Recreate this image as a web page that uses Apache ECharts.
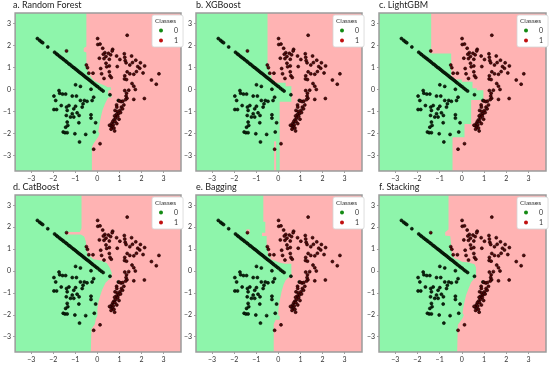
<!DOCTYPE html>
<html><head><meta charset="utf-8">
<script src="https://cdn.jsdelivr.net/npm/echarts@6/dist/echarts.min.js"></script>
<style>html,body{margin:0;padding:0;background:#fff}#c{width:550px;height:365px}</style>
</head><body><div id="c"></div>
<script>
// ---------- data ----------
const xRange = [-3.73, 3.79];
const yRange = [-3.70, 3.47];
const panelTitles = ['a. Random Forest', 'b. XGBoost', 'c. LightGBM', 'd. CatBoost', 'e. Bagging', 'f. Stacking'];
const classNames = ['0', '1'];
const legendTitle = 'Classes';

// class 0 samples
const class0 = [
  [-2.72,2.31],[-2.62,2.23],[-2.55,2.17],[-2.48,2.12],[-2.25,1.93],[-1.94,1.69],[-1.86,1.62],[-1.80,1.57],
  [-1.72,1.51],[-1.65,1.45],[-1.58,1.40],[-1.52,1.35],[-1.44,1.29],[-1.38,1.24],[-1.30,1.17],[-1.24,1.13],
  [-1.17,1.07],[-1.10,1.01],[-1.04,0.97],[-0.98,0.92],[-0.92,0.87],[-0.86,0.82],[-0.80,0.77],[-0.74,0.73],
  [-0.68,0.68],[-0.62,0.63],[-0.56,0.58],[-0.50,0.53],[-0.44,0.49],[-0.38,0.44],[-0.32,0.39],[-0.26,0.34],
  [-0.20,0.29],[-0.12,0.23],[-0.05,0.17],[0.02,0.12],[0.10,0.05],[0.18,-0.01],[0.26,-0.07],
  [-0.99,0.21],[-0.77,0.14],[-0.29,0.01],[-1.74,-0.05],
  [-1.71,-0.17],[-1.58,-0.21],[-1.44,-0.21],[-1.97,-0.30],[-1.89,-0.50],[-1.14,-0.30],[-0.95,-0.30],
  [-0.77,-0.50],[-0.59,-0.50],[-0.47,-0.54],[-0.17,-0.35],[-0.24,-0.50],[-0.65,-0.65],[-0.69,-0.80],
  [-0.99,-0.76],[-1.07,-0.88],[-1.40,-0.80],[-1.29,-0.73],[-1.64,-0.73],[-1.97,-0.91],[-1.85,-0.91],
  [-1.37,-0.95],[-1.41,-1.18],[-1.14,-1.10],[-0.92,-1.06],[-0.83,-1.18],[-1.07,-1.25],[-1.22,-1.25],
  [-0.29,-1.15],[-0.29,-1.30],[-0.08,-1.51],[-1.37,-1.48],[-1.34,-1.63],[-1.44,-1.71],[-0.84,-1.51],
  [-1.55,-1.93],[-1.47,-1.96],[-1.37,-1.96],[-1.02,-2.01],[-0.53,-2.04],[-0.14,-1.93],[-0.81,-2.38],
  [0.57,-0.24],[0.95,-0.50]
];
// class 1 samples
const class1 = [
  [1.35,2.46],[0.01,2.31],[0.02,2.04],[0.12,2.06],[0.24,1.87],[0.69,1.82],[0.34,1.67],[0.50,1.64],
  [0.60,1.57],[0.27,1.60],[0.39,1.50],[0.09,1.42],[0.30,1.40],[0.54,1.37],[0.67,1.75],[0.87,1.52],
  [1.22,1.62],[1.24,1.46],[1.26,1.31],[1.02,1.36],[1.55,1.52],[1.59,1.22],[1.74,1.33],[1.95,1.21],
  [2.14,1.07],[1.83,1.04],[1.92,0.96],[1.47,1.11],[1.30,1.21],[1.47,0.71],[1.77,0.81],[1.24,0.62],
  [0.90,1.04],[0.54,1.07],[0.39,1.19],[0.15,0.95],[0.42,1.03],[0.19,0.71],[0.57,0.62],[0.54,0.80],
  [0.63,0.54],[0.30,0.50],[2.67,0.24],[2.45,0.43],[2.79,0.71],[2.07,0.75],[1.35,0.80],[1.65,0.69],
  [1.23,0.48],[1.32,0.45],[1.57,0.27],[1.65,0.15],[1.72,0.00],[1.42,-0.03],[1.24,-0.05],[2.13,-0.41],
  [1.65,-0.45],[-0.50,1.11],[-0.45,0.99],[-0.39,0.74],[-0.20,0.74],[-1.40,1.75],[-0.17,-2.71],[0.12,-2.46],
  [1.32,-0.17],[1.30,-0.30],[1.34,-0.40],[1.28,-0.46],[1.00,-0.52],[1.08,-0.55],[1.15,-0.53],[0.87,-0.70],
  [0.88,-0.80],[1.09,-0.80],[1.14,-0.88],[1.20,-0.70],[0.80,-0.95],[0.90,-1.00],[0.95,-1.10],[0.85,-1.15],
  [0.92,-1.22],[0.78,-1.20],[0.83,-1.30],[0.75,-1.38],[0.70,-1.45],[0.80,-1.45],[0.65,-1.55],[0.72,-1.60],
  [0.60,-1.65],[0.55,-1.62],[0.68,-1.72],[0.75,-1.75],[0.78,-1.88],[0.62,-1.80],[1.02,-0.95],[1.05,-1.05],
  [0.98,-1.35],[0.88,-1.55]
];

// decision boundaries (class 0 region is to the left), top to bottom
const boundaryRF = [[-0.50,3.47],[-0.50,1.95],[-0.62,1.88],[-0.62,1.72],[-0.50,1.68],[-0.50,1.04],[-0.41,0.81],
  [-0.29,0.55],[-0.14,0.40],[0.08,0.28],[0.38,0.16],[0.46,0.10],[0.61,0.10],[0.61,-0.02],[0.49,-0.05],
  [0.49,-0.21],[0.64,-0.25],[0.64,-0.36],[0.49,-0.36],[0.43,-0.48],[0.34,-0.66],[0.23,-0.94],[0.16,-1.24],
  [0.10,-1.54],[0.04,-1.92],[0.10,-2.00],[0.04,-2.15],[-0.07,-2.30],[-0.17,-2.45],[-0.25,-2.61],[-0.25,-3.70]];
const boundaryXGB = [[-0.49,3.47],[-0.49,1.15],[-0.41,1.15],[-0.41,0.65],[-0.31,0.65],[-0.31,0.42],[-0.19,0.42],
  [-0.19,0.30],[0.33,0.30],[0.33,0.15],[0.59,0.15],[0.59,-0.56],[0.06,-0.56],[0.06,-3.70]];
const boundaryLGBM = [[-1.38,3.47],[-1.38,1.63],[-0.48,1.63],[-0.48,0.57],[-0.37,0.57],[-0.37,0.45],[0.00,0.45],
  [0.00,0.35],[0.48,0.35],[0.48,0.05],[0.67,0.05],[0.67,-0.03],[0.97,-0.03],[0.97,-0.48],[0.42,-0.48],
  [0.42,-1.57],[0.12,-1.57],[0.12,-2.17],[-0.42,-2.17],[-0.42,-3.70]];
const boundaryCat = [[-0.72,3.47],[-0.72,1.95],[-0.80,1.78],[-1.42,1.78],[-1.42,1.67],[-0.75,1.67],[-0.60,1.57],
  [-0.52,1.34],[-0.52,0.97],[-0.42,0.74],[-0.18,0.54],[0.15,0.48],[0.42,0.36],[0.57,0.14],[0.65,-0.09],
  [0.63,-0.32],[0.52,-0.39],[0.37,-0.54],[0.22,-0.84],[0.12,-1.15],[0.04,-1.45],[0.00,-1.75],[0.00,-2.05],
  [-0.07,-2.20],[-0.12,-2.43],[-0.27,-2.65],[-0.30,-3.70]];
const boundaryBag = [[-0.68,3.47],[-0.68,2.25],[-0.59,2.25],[-0.59,1.75],[-0.74,1.75],[-0.74,1.60],[-0.53,1.60],
  [-0.53,1.12],[-0.47,1.12],[-0.47,0.74],[-0.36,0.74],[-0.36,0.54],[-0.18,0.48],[0.03,0.39],[0.30,0.33],
  [0.59,0.33],[0.59,-0.18],[0.44,-0.32],[0.33,-0.42],[0.24,-0.62],[0.15,-0.92],[0.09,-1.22],[0.03,-1.52],
  [0.00,-1.83],[0.00,-2.05],[0.06,-2.05],[0.06,-2.23],[-0.12,-2.23],[-0.21,-2.43],[-0.21,-3.70]];
const boundaryStack = [[-0.60,3.47],[-0.60,1.89],[-0.75,1.77],[-0.75,1.62],[-0.52,1.59],[-0.48,1.14],[-0.45,0.76],
  [-0.33,0.57],[-0.15,0.51],[0.00,0.42],[0.30,0.39],[0.57,0.31],[0.64,0.16],[0.64,-0.28],[0.52,-0.39],
  [0.42,-0.51],[0.30,-0.81],[0.19,-1.11],[0.12,-1.41],[0.06,-1.71],[0.03,-1.93],[0.09,-2.01],[0.03,-2.16],
  [-0.07,-2.31],[-0.18,-2.46],[-0.21,-3.70]];
// small class-1 islands inside the class-0 region
const islandsXGB = [[[-0.19,-2.35],[-0.10,-2.35],[-0.10,-3.70],[-0.19,-3.70]]];
const islandsBag = [[[-1.45,1.90],[-1.30,1.90],[-1.30,1.68],[-1.45,1.68]]];

const boundaries = [boundaryRF, boundaryXGB, boundaryLGBM, boundaryCat, boundaryBag, boundaryStack];
const islands = [[], islandsXGB, [], [], islandsBag, []];

// ---------- layout / style ----------
const panels = [
  {l:13,t:13,w:168,h:158},{l:196,t:13,w:166,h:158},{l:379,t:13,w:167,h:158},
  {l:13,t:195,w:168,h:157},{l:196,t:195,w:166,h:157},{l:379,t:195,w:167,h:157}
];
const GREEN = '#8ef5ab', PINK = '#ffb3b3';
const FONT = 'Lato, "Open Sans", sans-serif';

const chart = echarts.init(document.getElementById('c'), null, {renderer:'canvas'});
const grid = [], xAxis = [], yAxis = [], series = [], legend = [], graphic = [];
const fmt = v => (v < 0 ? '\u2212' + Math.abs(v) : String(v));
const corner = [xRange[0], yRange[0]];

panels.forEach((p, i) => {
  grid.push({left:p.l, top:p.t, width:p.w, height:p.h, show:true, backgroundColor:PINK, borderWidth:0});
  const axCommon = {
    gridIndex:i, minInterval:1, maxInterval:1,
    axisLine:{show:false, onZero:false}, splitLine:{show:false},
    axisTick:{show:true, length:2, lineStyle:{color:'#888', width:0.8}},
    axisLabel:{fontSize:7, color:'#333', fontFamily:FONT, margin:4, showMinLabel:false, showMaxLabel:false, formatter:fmt}
  };
  xAxis.push(Object.assign({type:'value', min:xRange[0], max:xRange[1], position:'bottom'}, axCommon));
  yAxis.push(Object.assign({type:'value', min:yRange[0], max:yRange[1], position:'left'}, axCommon));

  const greenPoly = [[xRange[0], yRange[1]]].concat(boundaries[i]).concat([[xRange[0], yRange[0]]]);
  const polys = [{pts:greenPoly, fill:GREEN}].concat(islands[i].map(q => ({pts:q, fill:PINK})));
  series.push({
    type:'custom', xAxisIndex:i, yAxisIndex:i, clip:true, silent:true, z:1,
    data: polys.map(q => q.pts[0]),
    renderItem: (params, api) => {
      const q = polys[params.dataIndex];
      return {type:'polygon', shape:{points:q.pts.map(pt => api.coord(pt))}, style:{fill:q.fill, stroke:null}};
    }
  });
  series.push({
    name:classNames[0], type:'scatter', xAxisIndex:i, yAxisIndex:i, data:class0, symbolSize:3, z:3,
    itemStyle:{color:'#0a2a0c', borderColor:'#000', borderWidth:0.6, opacity:1}
  });
  series.push({
    name:classNames[1], type:'scatter', xAxisIndex:i, yAxisIndex:i, data:class1, symbolSize:3, z:3,
    itemStyle:{color:'#560808', borderColor:'#120000', borderWidth:0.6, opacity:1}
  });
  // frame
  series.push({
    type:'custom', xAxisIndex:i, yAxisIndex:i, clip:false, silent:true, z:4, data:[corner],
    renderItem: (params, api) => {
      const a = api.coord([xRange[0], yRange[1]]), b = api.coord([xRange[1], yRange[0]]);
      return {type:'rect', shape:{x:a[0], y:a[1], width:b[0]-a[0], height:b[1]-a[1]},
        style:{fill:null, stroke:'#9c9c9c', lineWidth:1.5}};
    }
  });
  // legend
  legend.push({
    orient:'vertical', left:p.l + p.w - 29, top:p.t + 2, itemWidth:4, itemHeight:4, itemGap:3,
    padding:[12,5,3,7], backgroundColor:'#fff', borderColor:'#d4d4d4', borderWidth:0.8, borderRadius:2,
    icon:'circle', selectedMode:false,
    textStyle:{fontSize:7, color:'#333', fontFamily:FONT, padding:[0,0,0,6]},
    data:[{name:classNames[0], itemStyle:{color:'#138a13', borderWidth:0}}, {name:classNames[1], itemStyle:{color:'#c01010', borderWidth:0}}],
    z:10
  });
  graphic.push({type:'text', left:p.l + p.w - 26, top:p.t + 4, z:100,
    style:{text:legendTitle, fontSize:6.5, fill:'#333', fontFamily:FONT}});
  graphic.push({type:'text', left:p.l, top:p.t - 12, z:100,
    style:{text:panelTitles[i], fontSize:9, fill:'#222', fontFamily:FONT}});
});

chart.setOption({animation:false, backgroundColor:'#fff', grid, xAxis, yAxis, series, legend, graphic});
</script></body></html>
